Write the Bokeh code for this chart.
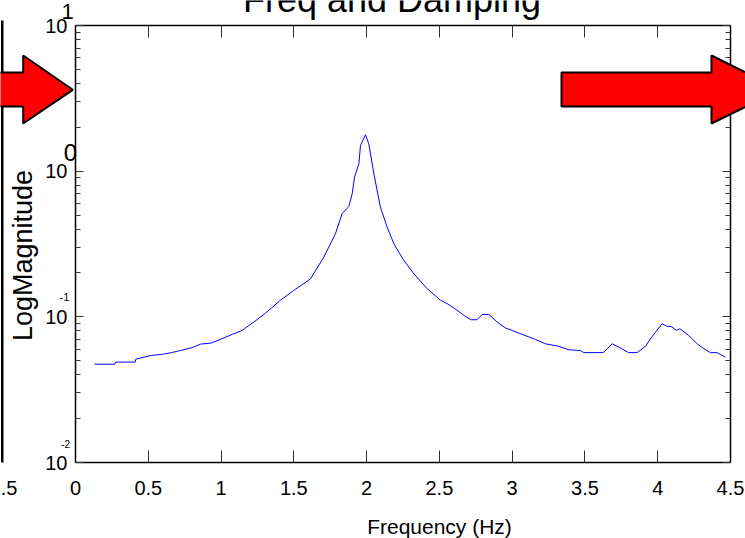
import math
from bokeh.plotting import figure
from bokeh.models import (Range1d, LinearAxis, LogAxis, FixedTicker, Label,
                          PolyAnnotation, CustomLabelingPolicy)
from bokeh.embed import file_html
from bokeh.resources import INLINE

# ---------------- data ----------------
freq_hz = [0.13, 0.27, 0.275, 0.41, 0.415, 0.52, 0.60, 0.66, 0.72, 0.80,
           0.86, 0.93, 1.00, 1.08, 1.145, 1.24, 1.30, 1.408, 1.50, 1.614,
           1.706, 1.786, 1.832, 1.878, 1.901, 1.917, 1.947, 1.958, 1.992, 2.015,
           2.05, 2.095, 2.141, 2.187, 2.221, 2.256, 2.324, 2.416, 2.508, 2.554,
           2.60, 2.679, 2.718, 2.759, 2.794, 2.84, 2.897, 2.954, 3.0, 3.069,
           3.16, 3.229, 3.321, 3.39, 3.469, 3.492, 3.625, 3.653, 3.687, 3.733,
           3.80, 3.859, 3.916, 3.939, 3.985, 4.03, 4.065, 4.092, 4.129, 4.152,
           4.213, 4.271, 4.317, 4.362, 4.408, 4.465]
log_magnitude = [0.0473, 0.0473, 0.0489, 0.0489, 0.0513, 0.0543, 0.0554, 0.0568, 0.0587, 0.0614,
                 0.0650, 0.0660, 0.0703, 0.0760, 0.0807, 0.0944, 0.105, 0.130, 0.152, 0.182,
                 0.257, 0.372, 0.511, 0.573, 0.700, 0.910, 1.125, 1.50, 1.78, 1.54,
                 0.959, 0.566, 0.413, 0.318, 0.278, 0.244, 0.198, 0.156, 0.130, 0.123,
                 0.115, 0.1007, 0.0955, 0.0955, 0.1038, 0.1038, 0.0920, 0.0838, 0.0807, 0.0757,
                 0.0700, 0.0653, 0.0627, 0.0594, 0.0587, 0.0568, 0.0568, 0.0604, 0.0653, 0.0619,
                 0.0568, 0.0568, 0.0627, 0.0681, 0.0785, 0.0897, 0.0859, 0.0859, 0.0807, 0.0828,
                 0.0745, 0.0653, 0.0604, 0.0568, 0.0568, 0.0528]

x_ticks = [0, 0.5, 1, 1.5, 2, 2.5, 3, 3.5, 4, 4.5]
x_tick_labels = ["0", "0.5", "1", "1.5", "2", "2.5", "3", "3.5", "4", "4.5"]
y_ticks = [0.01, 0.1, 1, 10]
y_tick_base = ["10", "10", "10", "10"]
y_tick_exp = ["-2", "-1", "0", "1"]

title_text = "Freq and Damping"
x_label_text = "Frequency (Hz)"
y_label_text = "LogMagnitude"

X_MIN, X_MAX = 0, 4.5
Y_MIN, Y_MAX = 0.01, 10

# ---------------- layout geometry (pixels of the 745x538 page) ----------------
W, H = 745, 538
FL, FR, FT, FB = 75, 730, 25, 462
FONT = "Liberation Sans"


def xd(px):
    return X_MIN + (px - FL) / (FR - FL) * (X_MAX - X_MIN)


def yd(py):
    lo, hi = math.log10(Y_MIN), math.log10(Y_MAX)
    return 10 ** (hi - (py - FT) / (FB - FT) * (hi - lo))


# the frame covers the whole page; the axes box is drawn by fixed-location axes
p = figure(width=W, height=H, x_range=Range1d(xd(0), xd(W)), y_range=Range1d(yd(H), yd(0)),
           y_axis_type="log", x_axis_location=None, y_axis_location=None,
           output_backend="svg", toolbar_location=None, min_border=0)
p.outline_line_color = None
p.background_fill_color = "white"
p.border_fill_color = "white"
p.grid.visible = False
p.xgrid.visible = False
p.ygrid.visible = False

minor_y = [m * 10 ** e for e in (-2, -1, 0) for m in range(2, 10)]
hide_all = CustomLabelingPolicy(code="""
    for (const i of Array.from(indices)) indices.unset(i)
    return indices
""")

TICK_COLOR = "#333333"

# bottom axis
xa = LinearAxis(fixed_location=Y_MIN, bounds=(X_MIN, X_MAX),
                ticker=FixedTicker(ticks=x_ticks),
                major_label_overrides=dict(zip(x_ticks, x_tick_labels)),
                major_tick_in=12, major_tick_out=0, minor_tick_in=0, minor_tick_out=0,
                major_label_standoff=18, major_label_text_font=FONT,
                major_label_text_font_size="20px", major_label_text_color="black",
                axis_line_color="black", axis_line_width=1.5,
                major_tick_line_color=TICK_COLOR)
p.add_layout(xa, "below")

# left axis
ya = LogAxis(fixed_location=X_MIN, bounds=(Y_MIN, Y_MAX),
             ticker=FixedTicker(ticks=y_ticks, minor_ticks=minor_y),
             major_label_overrides=dict(zip(y_ticks, y_tick_base)),
             major_tick_in=8, major_tick_out=0, minor_tick_in=5, minor_tick_out=0,
             major_label_standoff=8, major_label_text_font=FONT,
             major_label_text_font_size="20px", major_label_text_color="black",
             axis_line_color="black", axis_line_width=1.5,
             major_tick_line_color=TICK_COLOR, minor_tick_line_color=TICK_COLOR)
p.add_layout(ya, "left")

# top axis (ticks only)
ta = LinearAxis(fixed_location=Y_MAX, bounds=(X_MIN, X_MAX),
                ticker=FixedTicker(ticks=x_ticks), major_tick_in=12, major_tick_out=0,
                minor_tick_in=0, minor_tick_out=0, major_label_policy=hide_all,
                major_label_standoff=0, axis_line_color="black", axis_line_width=1.5,
                major_tick_line_color=TICK_COLOR)
p.add_layout(ta, "above")

# right axis (ticks only)
ra = LogAxis(fixed_location=X_MAX, bounds=(Y_MIN, Y_MAX),
             ticker=FixedTicker(ticks=y_ticks, minor_ticks=minor_y), major_tick_in=8,
             major_tick_out=0, minor_tick_in=5, minor_tick_out=0,
             major_label_policy=hide_all, major_label_standoff=0,
             axis_line_color="black", axis_line_width=1.5,
             major_tick_line_color=TICK_COLOR, minor_tick_line_color=TICK_COLOR)
p.add_layout(ra, "right")

# data line
p.line(freq_hz, log_magnitude, line_color="#0000ff", line_width=1)

# exponents of the y tick labels (pixel centre, font size)
exp_pos = {"1": (67, 11, "22px"), "0": (70, 152, "24px"), "-1": (64, 296, "11px"),
           "-2": (65, 443, "10px")}
for e in y_tick_exp:
    ex, ey, fs = exp_pos[e]
    p.add_layout(Label(x=xd(ex), y=yd(ey), text=e, text_font=FONT, text_font_size=fs,
                       text_align="center", text_baseline="middle", text_color="black"))

# title, axis labels (alphabetic anchor sits ~0.42 em below the baseline in Bokeh's Label)
p.add_layout(Label(x=xd(391.5), y=yd(14 - 15), text=title_text, text_font=FONT,
                   text_font_size="36px", text_align="center", text_baseline="alphabetic",
                   text_color="black"))
p.add_layout(Label(x=xd(439), y=yd(535 - 9), text=x_label_text, text_font=FONT,
                   text_font_size="21px", text_align="center", text_baseline="alphabetic",
                   text_color="black"))
p.add_layout(Label(x=xd(33.5 - 11), y=yd(255), text=y_label_text, text_font=FONT,
                   text_font_size="27px", text_align="center", text_baseline="alphabetic",
                   angle=90, angle_units="deg", text_color="black"))

# neighbouring subplot remnants on the left edge
p.add_layout(PolyAnnotation(xs=[xd(0.5), xd(3), xd(3), xd(0.5)],
                            ys=[yd(20), yd(20), yd(462), yd(462)],
                            fill_color="black", fill_alpha=1, line_color=None))
p.add_layout(Label(x=xd(3), y=yd(495.5 - 8), text="4.5", text_font=FONT, text_font_size="20px",
                   text_align="center", text_baseline="alphabetic", text_color="black"))

# red arrows
left_arrow_x = [-40, 22.7, 22.7, 72.3, 22.7, 22.7, -40]
right_arrow_x = [561, 711, 711, 780, 711, 711, 561]
arrow_y = [72, 72, 55, 89.3, 123, 106, 106]
for axs in (left_arrow_x, right_arrow_x):
    p.add_layout(PolyAnnotation(xs=[xd(v) for v in axs], ys=[yd(v) for v in arrow_y],
                                fill_color="#ff0000", fill_alpha=1, line_color="black",
                                line_alpha=1, line_width=2))

open("out.html", "w").write(file_html(p, INLINE))
